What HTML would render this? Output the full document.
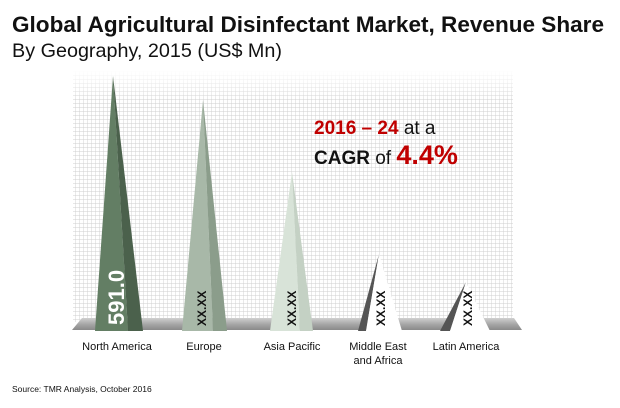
<!DOCTYPE html>
<html><head><style>
body{margin:0;width:620px;height:403px;background:#fff;overflow:hidden;font-family:"Liberation Sans",sans-serif;}
</style></head><body>
<svg width="620" height="403" xmlns="http://www.w3.org/2000/svg">
<defs>
<pattern id="g" width="4" height="4" patternUnits="userSpaceOnUse">
<path d="M4 0V4M0 4H4" stroke="#cfcfcf" stroke-width="0.9" fill="none"/>
</pattern>
<linearGradient id="fl" x1="0" y1="0" x2="0" y2="1">
<stop offset="0" stop-color="#d0d0d0"/><stop offset="0.5" stop-color="#a8a8a8"/><stop offset="1" stop-color="#8a8a8a"/>
</linearGradient>
<linearGradient id="gr" x1="0" y1="0" x2="0" y2="1">
<stop offset="0" stop-color="#fff"/><stop offset="1" stop-color="#fff" stop-opacity="0"/>
</linearGradient>
</defs>
<text x="12" y="32" font-size="22.5" font-weight="bold" fill="#111" textLength="592" lengthAdjust="spacingAndGlyphs">Global Agricultural Disinfectant Market, Revenue Share</text>
<text x="12" y="57" font-size="19.5" fill="#111" textLength="270" lengthAdjust="spacingAndGlyphs">By Geography, 2015 (US$ Mn)</text>
<rect x="73" y="70" width="440" height="252" fill="url(#g)"/>
<rect x="73" y="70" width="440" height="30" fill="url(#gr)"/>
<polygon points="82,318 514,318 522,330 72,330" fill="url(#fl)"/>
<polygon points="113,76 95,331 128,331" fill="#637e64"/>
<polygon points="113,76 128,331 143,331" fill="#4b614c"/>
<polygon points="203,100 182,331 213,331" fill="#a8b8a8"/>
<polygon points="203,100 213,331 227,331" fill="#8b9d8b"/>
<polygon points="292,172 270,331 300,331" fill="#d8e3d8"/>
<polygon points="292,172 300,331 313,331" fill="#c4d1c4"/>
<polygon points="379,254 358,331 366,331" fill="#555"/>
<polygon points="379,254 366,331 402,331" fill="#fff"/>
<polygon points="466,282 440,331 450,331" fill="#555"/>
<polygon points="466,282 450,331 490,331" fill="#fff"/>
<text transform="translate(124,325) rotate(-90)" font-size="22" font-weight="bold" fill="#fff">591.0</text>
<g font-size="12" font-weight="bold" fill="#111">
<text transform="translate(206,326) rotate(-90)">XX.XX</text>
<text transform="translate(296,326) rotate(-90)">XX.XX</text>
<text transform="translate(385,326) rotate(-90)">XX.XX</text>
<text transform="translate(472,326) rotate(-90)">XX.XX</text>
</g>
<text x="314" y="134" font-size="19" font-weight="bold" fill="#c00000">2016 – 24 <tspan fill="#111" font-weight="normal">at a</tspan></text>
<text x="314" y="164" font-size="19" font-weight="bold" fill="#111">CAGR <tspan font-weight="normal">of</tspan> <tspan fill="#c00000" font-size="27">4.4%</tspan></text>
<g font-size="11" fill="#111" text-anchor="middle">
<text x="117" y="350">North America</text>
<text x="204" y="350">Europe</text>
<text x="292" y="350">Asia Pacific</text>
<text x="378" y="350">Middle East</text>
<text x="378" y="364">and Africa</text>
<text x="466" y="350">Latin America</text>
</g>
<text x="12" y="392" font-size="8.5" fill="#111">Source: TMR Analysis, October 2016</text>
</svg>
</body></html>
